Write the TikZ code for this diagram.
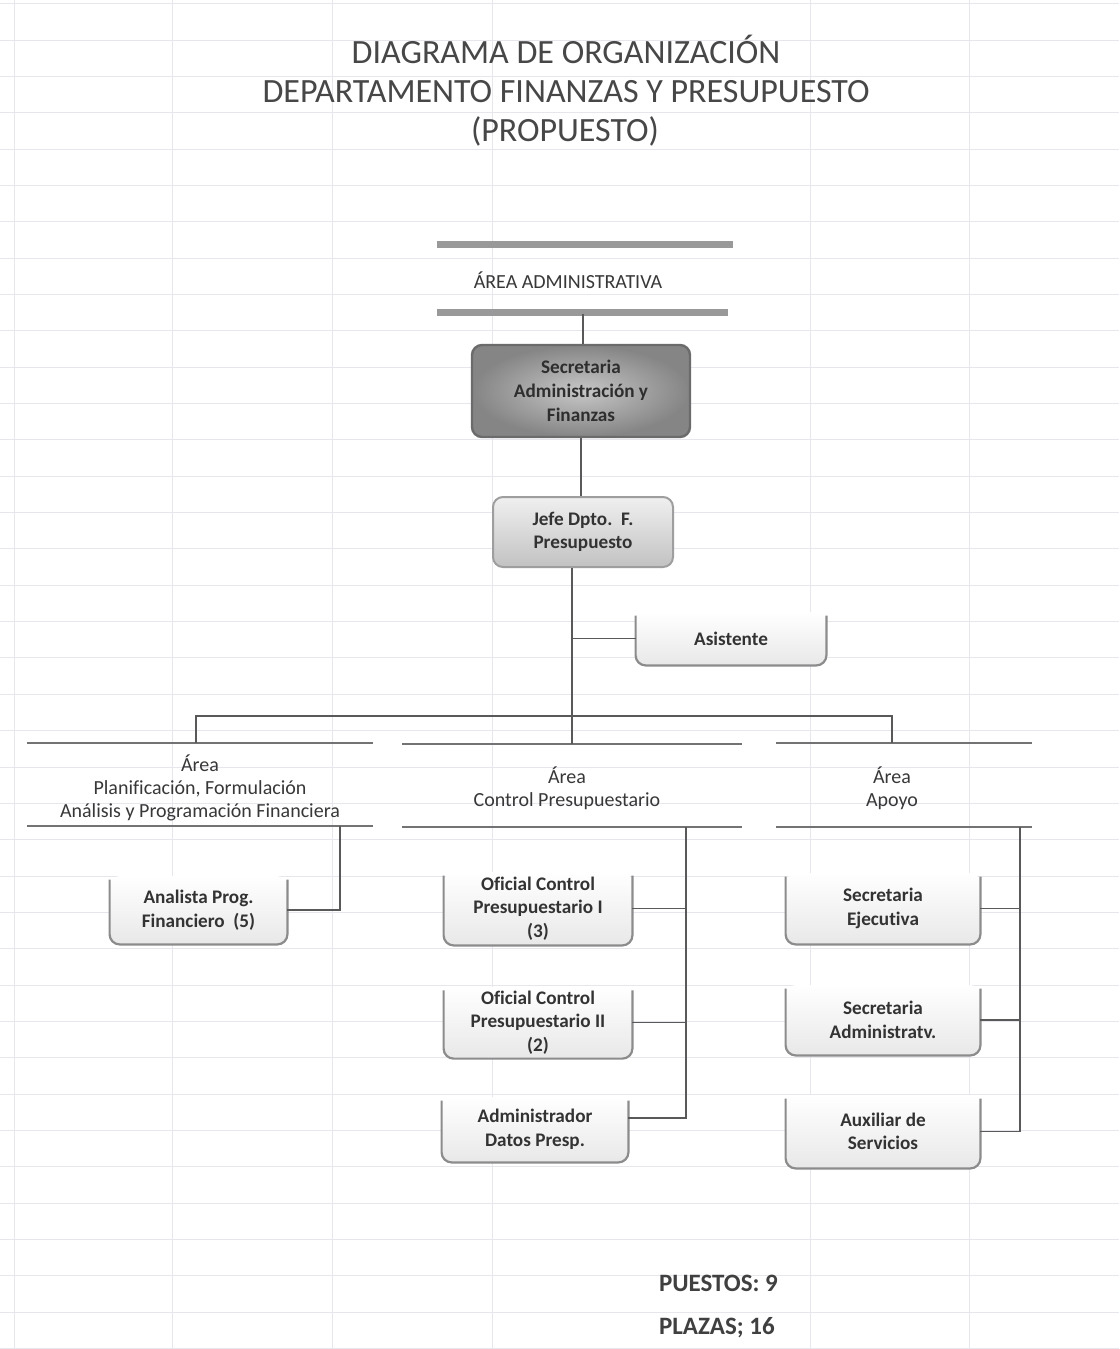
\documentclass[tikz,border=0pt]{standalone}
\usepackage{fontspec}
\setmainfont{Carlito}[Ligatures=NoCommon]
\begin{document}
\begin{tikzpicture}[x=0.5pt,y=-0.5pt,
  gridl/.style={draw={rgb,255:red,230;green,230;blue,237},line width=0.35pt},
  conn/.style={draw=black!65,line width=0.7pt},
  arealine/.style={draw=black!55,line width=0.7pt},
  bar/.style={draw=black!40,line width=3.5pt},
  ttl/.style={font=\fontsize{17}{20}\selectfont,text=black!72},
  arealbl/.style={font=\fontsize{10}{11.6}\selectfont,text=black!78,align=center},
  box/.style={rounded corners=5pt,top color=white,bottom color=black!9,
    text=black!80,font=\bfseries\fontsize{9.6}{11.75}\selectfont,align=center,inner sep=2pt},
  jefebox/.style={box,top color=black!6,bottom color=black!24,draw=black!38,line width=1pt},
  secbox/.style={box,inner color=black!22,outer color=black!48,draw=black!58,line width=1.2pt,
    font=\bfseries\fontsize{9.6}{12}\selectfont,text=black!82},
  uline/.style={draw=black!45,line width=1.1pt,rounded corners=5pt},
  totals/.style={font=\bfseries\fontsize{12.5}{14}\selectfont,text=black!75,anchor=west}
]
\useasboundingbox (0,0) rectangle (1119,1349);
\fill[white] (0,0) rectangle (1119,1349);
% spreadsheet grid
\foreach \gx in {14,172,332,492,810,969} \draw[gridl] (\gx,0) -- (\gx,1349);
\foreach \i [evaluate=\i as \gy using 3.5+36.35*\i] in {0,...,37} \draw[gridl] (0,\gy) -- (1119,\gy);

% title
\node[ttl] (t1) at (566,49) {DIAGRAMA DE ORGANIZACIÓN};
\node[ttl] (t2) at (566,92) {DEPARTAMENTO FINANZAS Y PRESUPUESTO};
\node[ttl] (t3) at (565,131) {(PROPUESTO)};

% area administrativa
\draw[bar] (437,244) -- (733,244);
\draw[bar] (437,312) -- (728,312);
\node[arealbl] (aadm) at (568,280) {ÁREA ADMINISTRATIVA};
\coordinate (barB) at (583,314);

% boxes
\node[secbox,minimum width=109pt,minimum height=46pt] (sec) at (581,391) {Secretaria\\Administración y\\Finanzas};
\node[jefebox,minimum width=90pt,minimum height=35pt] (jefe) at (583,532) {Jefe Dpto.\ \ F.\\Presupuesto};
\node[box,minimum width=95pt,minimum height=26.5pt] (asis) at (731,638.5) {Asistente};
\node[box,minimum width=88.5pt,minimum height=34pt] (ana) at (198.5,910) {Analista Prog.\\Financiero\ \ (5)};
\node[box,minimum width=94pt,minimum height=36.5pt] (of1) at (538,908.5) {Oficial Control\\Presupuestario I\\(3)};
\node[box,minimum width=94pt,minimum height=34.5pt] (of2) at (538,1022.5) {Oficial Control\\Presupuestario II\\(2)};
\node[box,minimum width=93pt,minimum height=32.5pt] (adm) at (535,1129.5) {Administrador\\Datos Presp.};
\node[box,minimum width=97pt,minimum height=35.5pt] (sej) at (883,908.5) {Secretaria\\Ejecutiva};
\node[box,minimum width=97pt,minimum height=35pt] (sad) at (883,1020) {Secretaria\\Administratv.};
\node[box,minimum width=97pt,minimum height=36.5pt] (aux) at (883,1131.5) {Auxiliar de\\Servicios};
\foreach \n in {asis,ana,of1,of2,adm,sej,sad,aux}
  \draw[uline] ([yshift=-2pt]\n.north west) -- (\n.south west) -- (\n.south east) -- ([yshift=-2pt]\n.north east);

% area labels and lines
\node[arealbl] (aL) at (200,788) {Área\\Planificación, Formulación\\Análisis y Programación Financiera};
\node[arealbl] (aC) at (567,788) {Área\\Control Presupuestario};
\node[arealbl] (aR) at (892,788) {Área\\Apoyo};
\draw[arealine] (27,743) -- (373,743);
\draw[arealine] (27,826) -- (373,826);
\draw[arealine] (402,744) -- (742,744);
\draw[arealine] (402,827) -- (742,827);
\draw[arealine] (776,743) -- (1032,743);
\draw[arealine] (776,827) -- (1032,827);

% connectors
\coordinate (cTop) at (572,744);
\coordinate (lTop) at (196,743);
\coordinate (rTop) at (892,743);
\coordinate (busL) at (196,716);
\coordinate (busR) at (892,716);
\coordinate (lB) at (340,826);
\coordinate (mB) at (686,827);
\coordinate (rB) at (1020,827);

\draw[conn] (barB) -- (barB |- sec.north);
\draw[conn] (sec.south) -- (sec.south |- jefe.north);
\draw[conn] ([xshift=-5.5pt]jefe.south) -- (cTop);
\draw[conn] (asis.west) -- (asis.west -| cTop);
\draw[conn] (lTop) -- (busL) -- (busR) -- (rTop);
\draw[conn] (lB) |- (ana.east);
\draw[conn] (mB) |- ([yshift=5.75pt]adm.east);
\draw[conn] (of1.east) -- (of1.east -| mB);
\draw[conn] (of2.east) -- (of2.east -| mB);
\draw[conn] (rB) |- (aux.east);
\draw[conn] (sej.east) -- (sej.east -| rB);
\draw[conn] (sad.east) -- (sad.east -| rB);

% totals
\node[totals] (pue) at (652,1283) {PUESTOS: 9};
\node[totals] (pla) at (652,1328) {PLAZAS; 16};
\end{tikzpicture}
\end{document}
